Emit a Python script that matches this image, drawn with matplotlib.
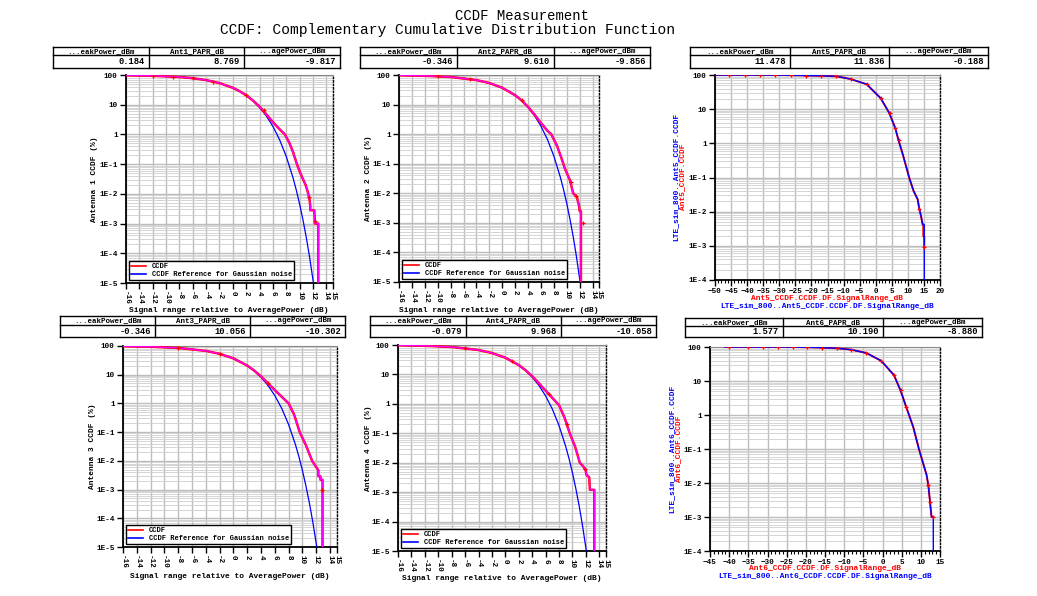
import numpy as np
import matplotlib
matplotlib.use('Agg')
import matplotlib.pyplot as plt
from matplotlib.lines import Line2D
from matplotlib.ticker import LogLocator, MultipleLocator, NullLocator

W, H = 1037, 596
MONO = 'Liberation Mono'

# Gaussian reference curve (dB rel. average power, CCDF in %)
REF_X = [-16, -12, -8, -6, -4, -2, 0, 1, 2, 3, 4, 5, 6, 7, 8, 9, 9.5, 10, 10.5, 11, 11.5, 12.07]
REF_Y = [97.5, 93.9, 85.4, 77.8, 67.2, 53.2, 36.8, 28.4, 20.5, 13.6, 8.1, 4.23, 1.87, 0.666, 0.182,
         0.0355, 0.0135, 0.00454, 0.00134, 0.00034, 0.000073, 0.00001]

# measured CCDF, antenna 1..4
ANT1_X = [-16, -12, -8, -6, -4, -2, 0, 1, 2, 3, 4, 5, 6, 7, 7.8, 8.5, 9.0, 9.6, 10.1, 10.6, 10.9,
          11.2, 11.3, 11.5, 11.6, 11.6, 12.2, 12.3, 12.8, 12.8]
ANT1_Y = [98, 94, 85.5, 78, 67.5, 53.5, 37, 28.6, 20.8, 14, 8.6, 4.8, 2.6, 1.5, 1.0, 0.5, 0.26, 0.1,
          0.05, 0.028, 0.02, 0.012, 0.01, 0.006, 0.004, 0.0028, 0.0028, 0.001, 0.001, 1e-5]
ANT1_MK_X = [-12, -9, -6, -3, 2, 4.6, 11.4, 12.3]
ANT1_MK_Y = [94, 88, 78, 60, 20.8, 6.6, 0.008, 0.0012]

ANT2_X = [-16, -12, -8, -4, -2, 0, 2, 3, 4, 5, 6, 7, 7.6, 8.5, 9.2, 9.7, 10.5, 11.0, 11.55, 11.9,
          12.0, 12.2, 12.2]
ANT2_Y = [98, 94, 85.5, 67.5, 53.5, 37, 20.7, 13.9, 8.4, 4.6, 2.4, 1.3, 1.0, 0.4, 0.15, 0.07, 0.0275,
          0.01, 0.0076, 0.0039, 0.0025, 0.0025, 1e-5]
ANT2_MK_X = [-10, -5, 3, 10.6, 11.5, 12.5]
ANT2_MK_Y = [91, 72, 13.9, 0.025, 0.008, 0.001]

ANT3_X = [-16, -12, -8, -4, -2, 0, 2, 3, 4, 5, 6, 7, 8, 8.8, 9.6, 10.5, 11.4, 12.0, 12.3, 12.3,
          12.6, 12.6, 12.9, 12.9]
ANT3_Y = [98, 94, 85.5, 67.5, 53.5, 37, 20.8, 14, 8.7, 5.0, 2.9, 1.7, 1.0, 0.4, 0.1, 0.035, 0.01,
          0.006, 0.0047, 0.0029, 0.0029, 0.0022, 0.0022, 1e-5]
ANT3_MK_X = [-8, -2, 5, 12.8]
ANT3_MK_Y = [85.5, 53.5, 5.0, 0.001]

ANT4_X = [-16, -12, -8, -4, -2, 0, 2, 3, 4, 5, 6, 7, 8, 8.8, 9.6, 10.4, 11.1, 11.6, 11.97, 12.1,
          12.5, 12.6, 13.26, 13.26]
ANT4_Y = [98, 94, 85.5, 67.5, 53.5, 37, 20.8, 14, 8.7, 5.0, 2.8, 1.6, 0.9, 0.35, 0.1, 0.035, 0.01,
          0.0075, 0.0056, 0.0038, 0.0032, 0.0012, 0.0012, 1e-5]
ANT4_MK_X = [-6, 1, 6.5, 9.2, 11.9]
ANT4_MK_Y = [78, 28.6, 2.1, 0.2, 0.006]

# LTE_sim_800 (blue) vs measured (red), antennas 5 and 6
SIM5_X = [-50, -40, -30, -20, -15, -12, -7.8, -2.8, 1.56, 4.25, 6.1, 7.06, 8.5, 10.4, 11.8, 13.05,
          13.56, 14.1, 14.6, 15.1, 15.1]
SIM5_Y = [100, 100, 100, 96, 93.5, 91, 76, 53.6, 20.8, 7.6, 2.75, 1.26, 0.45, 0.1, 0.04, 0.023,
          0.012, 0.0074, 0.0042, 0.0042, 1e-4]
ANT5_X = [-50, -40, -30, -20, -15, -12, -7.8, -2.8, 1.56, 4.25, 6.1, 7.06, 8.5, 10.4, 11.8, 13.05,
          13.56, 14.1, 14.6, 14.8, 14.8, 15.1, 15.1]
ANT5_Y = [100, 100, 100, 96, 93.5, 91, 76, 53.6, 20.8, 7.6, 2.75, 1.26, 0.45, 0.1, 0.04, 0.023,
          0.012, 0.0074, 0.0042, 0.0042, 0.0019, 0.0019, 0.00095]
ANT5_MK_X = [-45.6, -40.8, -36.0, -31.2, -26.5, -21.7, -17.0, -12.4, -7.8, -2.8, 1.6, 4.3, 6.1,
             7.1, 13.6, 15.1]
ANT5_MK_Y = [100, 100, 100, 100, 99, 96, 94, 91, 76, 53.6, 20.8, 7.6, 2.75, 1.26, 0.012, 0.00095]

SIM6_X = [-41.1, -31.3, -23.4, -15.9, -12.0, -8.3, -4.2, -0.3, 3.0, 4.7, 6.2, 8.0, 9.5, 11.5,
          11.95, 12.4, 12.56, 12.8, 13.25, 13.25]
SIM6_Y = [100, 100, 100, 96, 92, 83.8, 66.7, 39, 14.8, 5.3, 1.7, 0.45, 0.1, 0.0172, 0.0087,
          0.0028, 0.0018, 0.001, 0.001, 1e-4]
ANT6_X = [-41.1, -31.3, -23.4, -15.9, -12.0, -8.3, -4.2, -0.3, 3.0, 4.7, 6.2, 8.0, 9.5, 11.5,
          11.95, 12.4, 12.56, 12.8, 13.25]
ANT6_Y = [100, 100, 100, 96, 92, 83.8, 66.7, 39, 14.8, 5.3, 1.7, 0.45, 0.1, 0.0172, 0.0087,
          0.0028, 0.0018, 0.001, 0.001]
ANT6_MK_X = [-40.0, -35.0, -31.3, -27.3, -23.4, -19.8, -15.9, -12.0, -8.3, -4.2, -0.3, 3.0, 4.7,
             6.2, 11.95, 12.4, 13.25]
ANT6_MK_Y = [100, 100, 100, 100, 100, 98, 96, 92, 83.8, 66.7, 39, 14.8, 5.3, 1.7, 0.0087, 0.0028,
             0.001]

# tables above each plot
ANT_NAMES = ['Ant1', 'Ant2', 'Ant5', 'Ant3', 'Ant4', 'Ant6']
PEAK_DBM = [0.184, -0.346, 11.478, -0.346, -0.079, 1.577]
PAPR_DB = [8.769, 9.610, 11.836, 10.056, 9.968, 10.190]
AVG_DBM = [-9.817, -9.856, -0.188, -10.302, -10.058, -8.880]

LOG_TICKS = [100, 10, 1, 1e-1, 1e-2, 1e-3, 1e-4, 1e-5]
LOG_LABELS = ['100', '10', '1', '1E-1', '1E-2', '1E-3', '1E-4', '1E-5']


def px_rect(x0, y0, x1, y1):
    return [x0 / W, 1 - y1 / H, (x1 - x0) / W, (y1 - y0) / H]


def style_axes(ax, ndec):
    # ticks/labels set after the log scale so the formatter is not reset
    ax.set_yticks(LOG_TICKS[:ndec + 1])
    ax.set_yticklabels(LOG_LABELS[:ndec + 1])
    ax.yaxis.set_minor_locator(LogLocator(base=10, subs=np.arange(2, 10), numticks=20))
    ax.set_axisbelow(True)
    ax.grid(True, which='major', color='#bdbdbd', lw=1.0)
    ax.grid(True, which='minor', axis='y', color='#cfcfcf', lw=0.6)
    ax.tick_params(axis='y', which='minor', length=0)
    ax.tick_params(which='major', direction='out', length=4, width=1, pad=2, labelsize=5.5)
    for s in ['left', 'bottom']:
        ax.spines[s].set_linewidth(1.3)
    ax.spines['top'].set_color('#888888')
    ax.spines['top'].set_linewidth(0.8)
    ax.spines['right'].set_linestyle((0, (1, 1.5)))
    ax.spines['right'].set_linewidth(1.0)
    for lab in ax.get_xticklabels() + ax.get_yticklabels():
        lab.set_fontfamily(MONO)
        lab.set_fontweight('bold')


def plot_antenna(ax, mx, my, kx, ky):
    ax.set_yscale('log')
    ax.plot(REF_X, REF_Y, color='blue', lw=0.9, zorder=3)
    ax.plot(mx, my, color='red', lw=1.8, zorder=4)
    ax.plot(mx, my, color='magenta', lw=1.0, zorder=5)
    ax.plot(kx, ky, ls='none', marker='+', ms=3.5, mew=0.9, color='red', zorder=6)
    ax.set_xlim(-16, 15)
    ax.set_ylim(1e-5, 100)
    ticks = list(range(-16, 15, 2)) + [15]
    ax.set_xticks(ticks)
    ax.set_xticklabels([str(t) for t in ticks], rotation=-90)
    ax.xaxis.set_minor_locator(NullLocator())
    style_axes(ax, 7)
    handles = [Line2D([], [], color='red', lw=1.2), Line2D([], [], color='blue', lw=1.2)]
    ax.legend(handles, ['CCDF', 'CCDF Reference for Gaussian noise'], loc='lower left',
              prop={'family': MONO, 'size': 5, 'weight': 'bold'}, fancybox=False,
              edgecolor='black', framealpha=1, borderpad=0.3, handlelength=2.2,
              labelspacing=0.15, borderaxespad=0.4)


def plot_sim(ax, sx, sy, mx, my, kx, ky, xlim):
    ax.set_yscale('log')
    ax.plot(mx, my, color='red', lw=1.4, zorder=3)
    ax.plot(sx, sy, color='blue', lw=1.0, zorder=4)
    ax.plot(kx, ky, ls='none', marker='+', ms=3.5, mew=0.9, color='red', zorder=5)
    ax.set_xlim(*xlim)
    ax.set_ylim(1e-4, 100)
    ax.xaxis.set_major_locator(MultipleLocator(5))
    ax.xaxis.set_minor_locator(MultipleLocator(1))
    ax.tick_params(axis='x', which='minor', direction='out', length=2, width=0.8)
    style_axes(ax, 6)


def draw_table(ov, cols, rows, i):
    x0, x1 = cols[0], cols[-1]
    for y in rows:
        ov.plot([x0, x1], [y, y], color='black', lw=1.0)
    for x in cols:
        ov.plot([x, x], [rows[0], rows[-1]], color='black', lw=1.0)
    heads = ['...eakPower_dBm', ANT_NAMES[i] + '_PAPR_dB', '...agePower_dBm']
    vals = [PEAK_DBM[i], PAPR_DB[i], AVG_DBM[i]]
    for k in range(3):
        ov.text((cols[k] + cols[k + 1]) / 2, (rows[0] + rows[1]) / 2 + 0.3, heads[k],
                ha='center', va='center', family=MONO, weight='bold', fontsize=5.4)
        ov.text(cols[k + 1] - 4, (rows[1] + rows[2]) / 2 + 0.3, f'{vals[k]:.3f}',
                ha='right', va='center', family=MONO, weight='bold', fontsize=6.3)


def main():
    fig = plt.figure(figsize=(W / 100, H / 100), dpi=100)
    fig.patch.set_facecolor('white')

    ax1 = fig.add_axes(px_rect(126, 75, 333, 283))
    ax2 = fig.add_axes(px_rect(399, 75, 599, 282))
    ax5 = fig.add_axes(px_rect(715, 75, 940, 280))
    ax3 = fig.add_axes(px_rect(123, 346, 337, 547))
    ax4 = fig.add_axes(px_rect(398, 345, 606, 551))
    ax6 = fig.add_axes(px_rect(710, 347, 940, 551))

    plot_antenna(ax1, ANT1_X, ANT1_Y, ANT1_MK_X, ANT1_MK_Y)
    plot_antenna(ax2, ANT2_X, ANT2_Y, ANT2_MK_X, ANT2_MK_Y)
    plot_antenna(ax3, ANT3_X, ANT3_Y, ANT3_MK_X, ANT3_MK_Y)
    plot_antenna(ax4, ANT4_X, ANT4_Y, ANT4_MK_X, ANT4_MK_Y)
    plot_sim(ax5, SIM5_X, SIM5_Y, ANT5_X, ANT5_Y, ANT5_MK_X, ANT5_MK_Y, (-50, 20))
    plot_sim(ax6, SIM6_X, SIM6_Y, ANT6_X, ANT6_Y, ANT6_MK_X, ANT6_MK_Y, (-45, 15))

    # overlay in pixel coordinates for tables and free text
    ov = fig.add_axes([0, 0, 1, 1], facecolor='none')
    ov.set_xlim(0, W)
    ov.set_ylim(H, 0)
    ov.axis('off')

    ov.text(522, 16, 'CCDF Measurement', ha='center', va='center', family=MONO, fontsize=10)
    ov.text(447, 30, 'CCDF: Complementary Cumulative Distribution Function', ha='center',
            va='center', family=MONO, fontsize=10.5)

    draw_table(ov, [53, 149, 244, 340], [47, 55, 68], 0)
    draw_table(ov, [360, 457, 554, 650], [47, 55, 68], 1)
    draw_table(ov, [690, 790, 889, 988], [47, 55, 68], 2)
    draw_table(ov, [60, 155, 250, 345], [316, 325, 337], 3)
    draw_table(ov, [370, 466, 561, 656], [316, 325, 337], 4)
    draw_table(ov, [685, 783, 883, 982], [318, 326, 337], 5)

    lab = dict(family=MONO, weight='bold', fontsize=5.7)
    xl = 'Signal range relative to AveragePower (dB)'
    ov.text(229, 311, xl, ha='center', va='center', **lab)
    ov.text(499, 310, xl, ha='center', va='center', **lab)
    ov.text(230, 576, xl, ha='center', va='center', **lab)
    ov.text(502, 579, xl, ha='center', va='center', **lab)
    ov.text(95, 179, 'Antenna 1 CCDF (%)', rotation=90, ha='center', va='center', **lab)
    ov.text(369, 178, 'Antenna 2 CCDF (%)', rotation=90, ha='center', va='center', **lab)
    ov.text(92, 446, 'Antenna 3 CCDF (%)', rotation=90, ha='center', va='center', **lab)
    ov.text(369, 448, 'Antenna 4 CCDF (%)', rotation=90, ha='center', va='center', **lab)

    for n, xc, ax_y, bl_x, rd_x, yc in [(5, 827, 299, 676, 683, 177), (6, 825, 569, 672, 679, 449)]:
        ov.text(xc, ax_y, f'Ant{n}_CCDF.CCDF.DF.SignalRange_dB', color='red', ha='center',
                va='center', **lab)
        ov.text(xc, ax_y + 7, f'LTE_sim_800..Ant{n}_CCDF.CCDF.DF.SignalRange_dB', color='blue',
                ha='center', va='center', **lab)
        ov.text(bl_x, yc, f'LTE_sim_800..Ant{n}_CCDF.CCDF', color='blue', rotation=90,
                ha='center', va='center', **lab)
        ov.text(rd_x, yc, f'Ant{n}_CCDF.CCDF', color='red', rotation=90,
                ha='center', va='center', **lab)

    fig.savefig('out.png', dpi=100, facecolor='white')
    plt.close(fig)


if __name__ == '__main__':
    main()
